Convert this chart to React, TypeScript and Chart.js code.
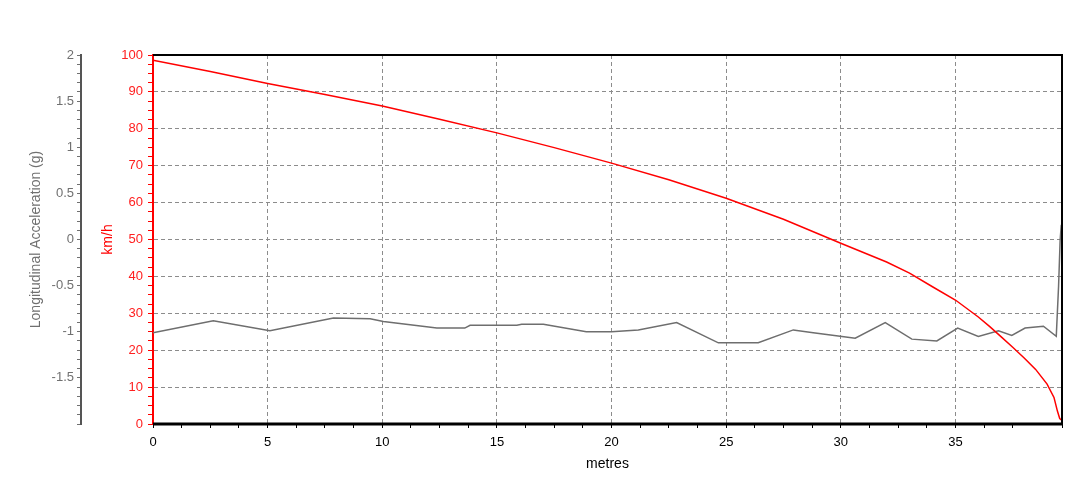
import React, { useEffect, useRef } from 'react';
import { Chart, registerables } from 'chart.js';

Chart.register(...registerables);

// Speed trace (km/h) against distance (metres)
const speedDistance = [0, 2.5, 5, 7.5, 10, 12.5, 15, 17.5, 20, 22.5, 25, 27.5, 30, 32, 33, 34, 35, 36, 36.5, 37, 37.5, 38, 38.5, 39, 39.3, 39.45, 39.55, 39.65];
const speedKmh = [98.6, 95.5, 92.3, 89.3, 86.2, 82.6, 78.9, 74.9, 70.7, 66.2, 61.2, 55.5, 49.0, 43.9, 40.9, 37.2, 33.6, 29.0, 26.4, 23.6, 20.8, 17.9, 14.8, 10.8, 7.2, 3.5, 1.5, 1.0];

// Longitudinal acceleration (g) against distance (metres)
const accelDistance = [0, 2.63, 5.1, 7.87, 9.47, 10.05, 12.38, 13.6, 13.83, 15.87, 16.08, 17.03, 18.9, 20.0, 21.17, 22.84, 24.66, 26.4, 27.93, 28.8, 29.97, 30.63, 31.94, 33.1, 34.19, 35.1, 36.0, 36.88, 37.46, 38.04, 38.84, 39.4, 39.5, 39.57, 39.62];
const accelG = [-1.01, -0.88, -0.99, -0.85, -0.86, -0.89, -0.96, -0.96, -0.93, -0.93, -0.92, -0.92, -1.0, -1.0, -0.98, -0.9, -1.12, -1.12, -0.98, -1.01, -1.05, -1.07, -0.9, -1.08, -1.1, -0.96, -1.05, -0.99, -1.04, -0.96, -0.94, -1.05, -0.51, 0.0, 0.16];

const xMin = 0;
const xMax = 39.65;
const xMajorStep = 5;
const xMinorStep = 1.25;
const speedMin = 0;
const speedMax = 100;
const speedMajorStep = 10;
const speedMinorStep = 2.5;
const accelMin = -2;
const accelMax = 2;
const accelMajorStep = 0.5;
const accelMinorStep = 0.1;

const FONT = "'Liberation Sans', Arial, sans-serif";

const isMultiple = (v: number, step: number) => Math.abs(v / step - Math.round(v / step)) < 1e-6;

const framePlugin = {
  id: 'frame',
  afterDatasetsDraw(chart: any) {
    const { ctx, chartArea: a } = chart;
    ctx.save();
    ctx.strokeStyle = '#000';
    ctx.lineWidth = 2;
    ctx.beginPath();
    ctx.moveTo(a.left, a.top);
    ctx.lineTo(a.right, a.top);
    ctx.lineTo(a.right, a.bottom);
    ctx.stroke();
    ctx.lineWidth = 3;
    ctx.beginPath();
    ctx.moveTo(a.left, a.bottom);
    ctx.lineTo(a.right + 1, a.bottom);
    ctx.stroke();
    ctx.restore();
  },
};

export default function App() {
  const canvasRef = useRef<HTMLCanvasElement | null>(null);

  useEffect(() => {
    if (!canvasRef.current) return;
    const speedPts = speedDistance.map((x, i) => ({ x, y: speedKmh[i] }));
    const accelPts = accelDistance.map((x, i) => ({ x, y: accelG[i] }));

    const chart = new Chart(canvasRef.current, {
      type: 'line',
      data: {
        datasets: [
          {
            label: 'Speed',
            data: speedPts,
            yAxisID: 'y',
            borderColor: '#ff0000',
            borderWidth: 1.5,
            pointRadius: 0,
            tension: 0,
          },
          {
            label: 'Longitudinal Acceleration',
            data: accelPts,
            yAxisID: 'yAcc',
            borderColor: '#6e6e6e',
            borderWidth: 1.5,
            pointRadius: 0,
            tension: 0,
          },
        ],
      },
      options: {
        animation: false,
        responsive: false,
        maintainAspectRatio: false,
        layout: { padding: { top: 55, right: 18, bottom: 0, left: 0 } },
        plugins: {
          legend: { display: false },
          tooltip: { enabled: false },
        },
        scales: {
          x: {
            type: 'linear',
            position: 'bottom',
            min: xMin,
            max: xMax,
            ticks: {
              stepSize: xMinorStep,
              autoSkip: false,
              maxRotation: 0,
              padding: 7,
              color: '#000',
              font: { family: FONT, size: 13 },
              callback: (v: any) => (isMultiple(Number(v), xMajorStep) ? String(Math.round(Number(v))) : ''),
            },
            grid: {
              color: (c: any) => {
                const v = c.tick ? c.tick.value : 0;
                return isMultiple(v, xMajorStep) && v > 0 ? '#8c8c8c' : 'rgba(0,0,0,0)';
              },
              tickColor: '#000',
              tickLength: 4,
              lineWidth: 1,
            },
            border: { display: false, dash: [4, 3] },
            title: {
              display: true,
              text: 'metres',
              color: '#000',
              font: { family: FONT, size: 14 },
              padding: { top: 0, bottom: 9 },
            },
            afterFit: (s: any) => {
              s.height = 58;
            },
          },
          y: {
            type: 'linear',
            position: 'left',
            weight: 0,
            min: speedMin,
            max: speedMax,
            ticks: {
              stepSize: speedMinorStep,
              autoSkip: false,
              maxTicksLimit: 1000,
              padding: 5,
              color: '#ff2020',
              font: { family: FONT, size: 13 },
              callback: (v: any) => (isMultiple(Number(v), speedMajorStep) ? String(Math.round(Number(v))) : ''),
            },
            grid: {
              color: (c: any) => {
                const v = c.tick ? c.tick.value : 0;
                return isMultiple(v, speedMajorStep) && v > speedMin && v < speedMax ? '#8c8c8c' : 'rgba(0,0,0,0)';
              },
              tickColor: '#ff0000',
              tickLength: 5,
              lineWidth: 1,
            },
            border: { display: true, color: '#ff0000', width: 2, dash: [4, 3] },
            title: {
              display: true,
              text: 'km/h',
              color: '#ff0000',
              font: { family: FONT, size: 14 },
              padding: { top: 19, bottom: 0 },
            },
            afterFit: (s: any) => {
              s.width = 72;
            },
          },
          yAcc: {
            type: 'linear',
            position: 'left',
            weight: 1,
            min: accelMin,
            max: accelMax,
            ticks: {
              stepSize: accelMinorStep,
              autoSkip: false,
              maxTicksLimit: 1000,
              padding: 3,
              color: '#707070',
              font: { family: FONT, size: 13 },
              callback: (v: any) => {
                const n = Math.round(Number(v) * 10) / 10;
                if (!isMultiple(n, accelMajorStep) || n <= accelMin) return '';
                return String(n);
              },
            },
            grid: {
              drawOnChartArea: false,
              tickColor: '#707070',
              tickLength: 4,
              lineWidth: 1,
            },
            border: { display: true, color: '#555', width: 2 },
            title: {
              display: true,
              text: 'Longitudinal Acceleration (g)',
              color: '#707070',
              font: { family: FONT, size: 14 },
              padding: { top: 28, bottom: 0 },
            },
            afterFit: (s: any) => {
              s.width = 81;
            },
          },
        },
      },
      plugins: [framePlugin],
    } as any);

    return () => chart.destroy();
  }, []);

  return (
    <div style={{ position: 'fixed', left: 0, top: 0, width: 1080, height: 482, background: '#fff' }}>
      <canvas ref={canvasRef} width={1080} height={482} />
    </div>
  );
}
